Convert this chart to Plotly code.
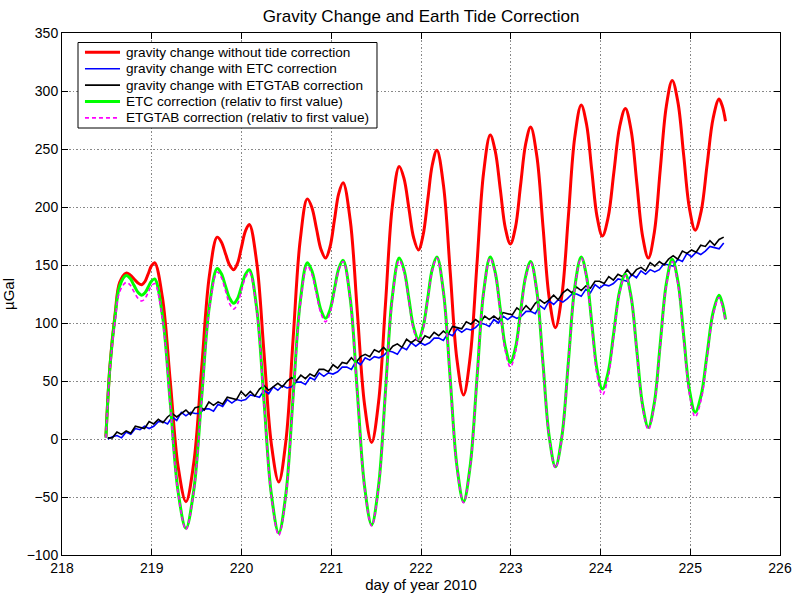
import numpy as np
import plotly.graph_objects as go

# ---- data ----
tide_days = [
    218.489, 218.535, 218.592, 218.643, 218.715,
    218.759, 218.802, 218.846, 218.889,
    218.925, 218.961, 218.996, 219.032,
    219.119, 219.207, 219.294, 219.381,
    219.468, 219.555, 219.642, 219.729,
    219.775, 219.821, 219.867, 219.913,
    219.957, 220.000, 220.044, 220.087,
    220.169, 220.251, 220.333, 220.415,
    220.495, 220.574, 220.654, 220.733,
    220.784, 220.835, 220.886, 220.937,
    220.986, 221.035, 221.083, 221.132,
    221.212, 221.291, 221.371, 221.450,
    221.527, 221.604, 221.680, 221.757,
    221.811, 221.865, 221.918, 221.972,
    222.023, 222.075, 222.126, 222.177,
    222.251, 222.326, 222.400, 222.474,
    222.548, 222.623, 222.697, 222.771,
    222.827, 222.884, 222.940, 222.996,
    223.053, 223.109, 223.166, 223.222,
    223.291, 223.360, 223.429, 223.498,
    223.570, 223.642, 223.713, 223.785,
    223.844, 223.903, 223.962, 224.021,
    224.085, 224.149, 224.213, 224.277,
    224.341, 224.405, 224.469, 224.533,
    224.600, 224.666, 224.733, 224.799,
    224.863, 224.927, 224.991, 225.055,
    225.122, 225.188, 225.255, 225.321,
    225.357, 225.393]

etc_correction = [
    1, 63, 106, 132, 141,
    138.5, 132.5, 126.5, 124,
    126, 131, 136, 138,
    106.6, 30.5, -45.6, -77,
    -44.3, 35, 114.3, 147,
    142.6, 132, 121.4, 117,
    121.2, 131.5, 141.8, 146,
    112.9, 32.5, -47.9, -81,
    -47, 35.5, 118, 152,
    145, 128, 111, 104,
    111.3, 129, 146.7, 154,
    120.7, 40, -40.7, -74,
    -40.4, 41, 122.4, 156,
    145.8, 121, 96.2, 86,
    96.4, 121.5, 146.6, 157,
    126.2, 51.5, -23.2, -54,
    -23.2, 51.5, 126.2, 157,
    143.7, 111.5, 79.3, 66,
    78.7, 109.5, 140.3, 153,
    127.2, 64.5, 1.8, -24,
    2.4, 66.5, 130.6, 157,
    140.4, 100, 59.6, 43,
    57.5, 92.5, 127.5, 142,
    122.7, 76, 29.3, 10,
    31.2, 82.5, 133.8, 155,
    135.7, 89, 42.3, 23,
    37.7, 73.5, 109.3, 124,
    117, 103]

etgtab_correction = [
    1, 61, 102, 127, 135,
    132.7, 127, 121.3, 119,
    121.2, 126.5, 131.8, 134,
    103, 28, -47, -78,
    -45.6, 33, 111.6, 144,
    139.3, 128, 116.7, 112,
    116.7, 128, 139.3, 144,
    110.9, 30.5, -49.9, -83,
    -49.1, 33, 115.1, 149,
    142, 125, 108, 101,
    108.6, 127, 145.4, 153,
    119.7, 39, -41.7, -75,
    -41.6, 39.5, 120.6, 154,
    143.8, 119, 94.2, 84,
    94.5, 120, 145.5, 156,
    125.2, 50.5, -24.2, -55,
    -24.2, 50.5, 125.2, 156,
    142.3, 109, 75.7, 62,
    75.1, 107, 138.9, 152,
    126.2, 63.5, 0.8, -25,
    1.4, 65.5, 129.6, 156,
    138.8, 97, 55.2, 38,
    53, 89.5, 126, 141,
    121.6, 74.5, 27.4, 8,
    29.2, 80.5, 131.8, 153,
    133.4, 86, 38.6, 19,
    34, 70.5, 107, 122,
    115, 101]

gravity_raw = [
    2, 64, 108, 135, 143,
    141.5, 138, 134.5, 133,
    135.8, 142.5, 149.2, 152,
    121.9, 49, -23.9, -54,
    -20.7, 60, 140.7, 174,
    169.9, 160, 150.1, 146,
    151.7, 165.5, 179.3, 185,
    152.6, 74, -4.6, -37,
    -1.4, 85, 171.4, 207,
    199.6, 181.5, 163.4, 156,
    165.5, 188.5, 211.5, 221,
    188.3, 109, 29.7, -3,
    31.7, 116, 200.3, 235,
    224.5, 199, 173.5, 163,
    175.6, 206, 236.4, 249,
    218.2, 143.5, 68.8, 38,
    70.7, 150, 229.3, 262,
    248.3, 215, 181.7, 168,
    182.7, 218.5, 254.3, 269,
    243.7, 182.5, 121.3, 96,
    124, 192, 260, 288,
    271.5, 231.5, 191.5, 175,
    191, 230, 269, 285,
    266.2, 220.5, 174.8, 156,
    178.3, 232.5, 286.7, 309,
    290.2, 244.5, 198.8, 180,
    196.5, 236.5, 276.5, 293,
    287, 274]

gravity_etgtab = [
    1, 1, 6, 4, 7, 5, 11, 10, 9, 15,
    13, 17, 14, 19, 22, 19, 22, 25, 21, 27,
    28, 25, 32, 29, 32, 30, 36, 35, 34, 41,
    37, 41, 37, 43, 46, 42, 45, 48, 45, 50,
    53, 50, 55, 52, 56, 54, 60, 60, 58, 64,
    61, 66, 65, 70, 66, 71, 73, 71, 77, 75,
    79, 75, 80, 82, 79, 86, 83, 86, 83, 89,
    87, 92, 89, 93, 90, 97, 96, 95, 101, 99,
    103, 100, 106, 103, 106, 103, 109, 108, 107, 113,
    110, 115, 111, 117, 120, 117, 120, 124, 120, 126,
    129, 126, 131, 128, 132, 130, 136, 136, 134, 140,
    137, 142, 140, 146, 141, 146, 148, 145, 152, 149,
    153, 150, 155, 158, 155, 162, 160, 163, 161, 167,
    166, 171, 167, 172, 174]

gravity_etc = [
    0, 2, 3, 1, 6, 4, 9, 8, 11, 9,
    11, 15, 15, 13, 19, 16, 23, 20, 23, 22,
    22, 26, 26, 24, 30, 28, 34, 31, 34, 33,
    34, 38, 37, 36, 42, 39, 45, 42, 46, 44,
    45, 49, 49, 47, 53, 51, 57, 54, 57, 56,
    58, 62, 62, 60, 67, 64, 70, 68, 71, 70,
    72, 76, 75, 73, 79, 77, 83, 80, 83, 81,
    83, 87, 87, 85, 91, 89, 95, 92, 95, 94,
    96, 100, 99, 97, 103, 100, 106, 103, 106, 104,
    106, 110, 110, 108, 115, 112, 119, 116, 120, 118,
    121, 125, 125, 123, 129, 126, 133, 130, 133, 132,
    134, 138, 137, 136, 142, 139, 145, 142, 146, 144,
    146, 151, 150, 149, 155, 153, 160, 157, 161, 159,
    162, 166, 165, 164, 169]

# sampling grid of the drift records (days)
drift_days = np.linspace(218.51, 225.373, len(gravity_etgtab))

x_ticks = [218, 219, 220, 221, 222, 223, 224, 225, 226]
y_ticks = [-100, -50, 0, 50, 100, 150, 200, 250, 300, 350]

series_names = [
    "gravity change without tide correction",
    "gravity change with ETC correction",
    "gravity change with ETGTAB correction",
    "ETC correction (relativ to first value)",
    "ETGTAB correction (relativ to first value)",
]
series_colors = ["#ff0000", "#0000ff", "#000000", "#00ff00", "#ff00ff"]
series_widths = [3, 1.6, 1.6, 3, 1.6]
series_dash = ["solid", "solid", "solid", "solid", "4px,3px"]

FONT = "Liberation Sans, Arial, Helvetica, sans-serif"

fig = go.Figure()
trace_data = [
    (tide_days, gravity_raw, "spline"),
    (drift_days, gravity_etc, "linear"),
    (drift_days, gravity_etgtab, "linear"),
    (tide_days, etc_correction, "spline"),
    (tide_days, etgtab_correction, "spline"),
]
for (xs, ys, shp), nm, col, w, d in zip(trace_data, series_names, series_colors,
                                        series_widths, series_dash):
    fig.add_trace(go.Scatter(x=xs, y=ys, mode="lines", name=nm, showlegend=False,
                             line=dict(color=col, width=w, shape=shp, dash=d)))

# legend box drawn MATLAB-style (tighter row spacing than plotly's legend)
leg_x0, leg_x1, leg_y0, leg_y1 = 0.0223, 0.4387, 0.8180, 0.9818
row_top, row_step = 0.9630, 0.0314
sample_x0, sample_x1, text_x = 0.0320, 0.0808, 0.0859
shapes = [dict(type="rect", xref="paper", yref="paper", x0=leg_x0, x1=leg_x1,
               y0=leg_y0, y1=leg_y1, line=dict(color="black", width=1),
               fillcolor="white", layer="above")]
annotations = []
for i, (nm, col, w, d) in enumerate(zip(series_names, series_colors,
                                        series_widths, series_dash)):
    yy = row_top - i * row_step
    shapes.append(dict(type="line", xref="paper", yref="paper", x0=sample_x0,
                       x1=sample_x1, y0=yy, y1=yy, layer="above",
                       line=dict(color=col, width=w, dash=d)))
    annotations.append(dict(text=nm, xref="paper", yref="paper", x=text_x, y=yy,
                            xanchor="left", yanchor="middle", showarrow=False,
                            font=dict(family=FONT, size=13.6, color="black")))

axis_common = dict(
    showline=True, linecolor="black", linewidth=1, mirror="ticks",
    ticks="inside", ticklen=6, tickcolor="black",
    showgrid=True, gridcolor="#888888", griddash="1.5px,2px", gridwidth=1,
    zeroline=False, automargin=False,
    tickfont=dict(family=FONT, size=14, color="black"),
)

fig.update_layout(
    width=793, height=594,
    margin=dict(l=62, r=13, t=33, b=39, autoexpand=False),
    paper_bgcolor="white", plot_bgcolor="white",
    font=dict(family=FONT, size=14, color="black"),
    title=dict(text="Gravity Change and Earth Tide Correction",
               x=0.531, xanchor="center", y=0.973, yanchor="middle",
               font=dict(family=FONT, size=17, color="black")),
    xaxis=dict(range=[218, 226], tickvals=x_ticks,
               title=dict(text="day of year 2010", standoff=4,
                          font=dict(family=FONT, size=15)),
               **axis_common),
    yaxis=dict(range=[-100, 350], tickvals=y_ticks,
               title=dict(text="µGal", standoff=10,
                          font=dict(family=FONT, size=15)),
               **axis_common),
    shapes=shapes,
    annotations=annotations,
    showlegend=False,
)

fig.write_html("out.html")
